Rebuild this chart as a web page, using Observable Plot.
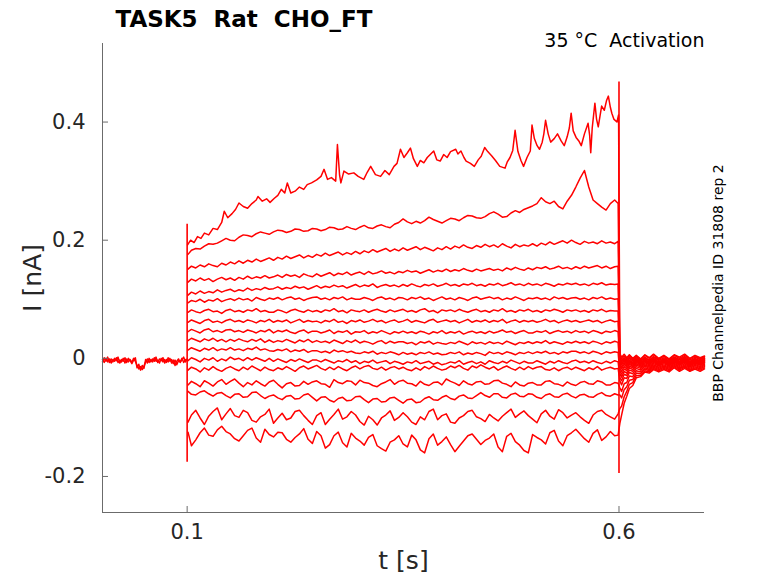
<!DOCTYPE html>
<html><head><meta charset="utf-8">
<script src="https://cdn.jsdelivr.net/npm/d3@7"></script>
<script src="https://cdn.jsdelivr.net/npm/@observablehq/plot@0.6"></script>
<style>
html,body{margin:0;padding:0;background:#fff;}
#chart svg text{white-space:pre;}
</style></head><body><div id="chart"></div>
<script>
const titleText = "TASK5  Rat  CHO_FT";
const conditionText = "35 °C  Activation";
const sourceText = "BBP Channelpedia ID 31808 rep 2";
const xLabel = "t [s]";
const yLabel = "I [nA]";
const xTicks = [0.1, 0.6];
const yTicks = [-0.2, 0, 0.2, 0.4];
const xDomain = [0.002, 0.699];
const yDomain = [-0.261, 0.533];

// baseline before the step (pA), t in s — two overlapping sweeps
const tPre = [0.002,0.004,0.006,0.008,0.010,0.012,0.014,0.016,0.018,0.020,0.022,0.024,0.026,0.028,0.030,0.032,0.034,0.036,0.038,0.040,0.042,0.044,0.046,0.048,0.050,0.052,0.054,0.056,0.058,0.060,0.062,0.064,0.066,0.068,0.070,0.072,0.074,0.076,0.078,0.080,0.082,0.084,0.086,0.088,0.090,0.092,0.094,0.096,0.098,0.100];
const pre1PA = [-2,-7,0,-6,-1,-8,-2,-5,1,-7,-3,-6,0,-8,-1,-6,-2,-7,0,-5,-12,-18,-14,-19,-13,-6,-1,-7,-2,-6,1,-5,-3,-8,0,-6,-2,-7,1,-5,-2,-9,-3,-11,-4,-6,0,-7,-2,-4];
const pre2PA = [-6,1,-5,2,-7,-1,-6,0,-4,2,-8,-2,-5,1,-7,0,-4,-9,-3,1,-16,-10,-20,-12,-17,-2,-8,0,-6,-1,-5,2,-7,-1,-4,1,-8,-2,-6,0,-8,-3,-12,-5,-1,-7,-2,2,-6,-1];

// top trace (own time points)
const tTop = [0.1005,0.104,0.108,0.112,0.116,0.120,0.125,0.130,0.135,0.140,0.143,0.147,0.152,0.156,0.160,0.165,0.170,0.175,0.180,0.182,0.187,0.192,0.196,0.201,0.205,0.209,0.213,0.216,0.220,0.225,0.230,0.235,0.239,0.244,0.250,0.255,0.2585,0.2625,0.267,0.272,0.274,0.2765,0.278,0.2815,0.287,0.293,0.298,0.3045,0.3085,0.3125,0.318,0.324,0.329,0.334,0.3395,0.343,0.347,0.351,0.355,0.3585,0.362,0.3665,0.370,0.374,0.378,0.3855,0.389,0.393,0.397,0.401,0.405,0.411,0.4135,0.417,0.4205,0.423,0.428,0.4325,0.437,0.4405,0.4445,0.448,0.4525,0.457,0.462,0.468,0.4705,0.4738,0.477,0.4797,0.483,0.4865,0.4895,0.4935,0.4973,0.4993,0.502,0.5052,0.508,0.5111,0.513,0.515,0.518,0.5209,0.525,0.5288,0.533,0.5366,0.540,0.5425,0.5446,0.547,0.5503,0.5535,0.5563,0.560,0.5642,0.566,0.5673,0.569,0.5721,0.574,0.576,0.578,0.5799,0.583,0.5855,0.5877,0.590,0.5917,0.594,0.5976,0.5995];
const trace1PA = [192,200,196,206,203,212,209,220,218,230,249,238,245,252,263,257,254,262,268,274,266,270,264,271,276,286,280,297,280,283,290,286,294,297,302,308,320,303,306,300,362,310,297,317,312,314,308,303,315,325,311,308,318,311,325,330,354,340,348,356,338,325,335,331,340,351,336,334,345,340,350,354,346,351,340,334,330,325,336,342,357,350,343,335,325,322,332,340,352,386,350,335,325,340,351,395,372,360,354,366,380,403,380,366,372,380,368,360,375,390,415,385,374,368,360,380,398,378,348,390,432,405,392,410,427,420,436,444,425,415,405,400,412];

// shared time grid for the other step traces (0.101, 0.105 ... 0.595, 0.599)
const tGrid = [0.101,0.105,0.11,0.115,0.12,0.125,0.13,0.135,0.14,0.145,0.15,0.155,0.16,0.165,0.17,0.175,0.18,0.185,0.19,0.195,0.20,0.205,0.21,0.215,0.22,0.225,0.23,0.235,0.24,0.245,0.25,0.255,0.26,0.265,0.27,0.275,0.28,0.285,0.29,0.295,0.30,0.305,0.31,0.315,0.32,0.325,0.33,0.335,0.34,0.345,0.35,0.355,0.36,0.365,0.37,0.375,0.38,0.385,0.39,0.395,0.40,0.405,0.41,0.415,0.42,0.425,0.43,0.435,0.44,0.445,0.45,0.455,0.46,0.465,0.47,0.475,0.48,0.485,0.49,0.495,0.50,0.505,0.51,0.515,0.52,0.525,0.53,0.535,0.54,0.545,0.55,0.555,0.56,0.565,0.57,0.575,0.58,0.585,0.59,0.595,0.599];
const trace2PA = [176,183,186,185,190,194,193,195,199,203,200,199,205,209,208,206,211,214,212,210,214,217,216,213,215,219,218,215,216,220,219,216,218,222,221,218,219,223,220,218,222,225,221,220,224,226,223,221,227,230,236,231,228,232,229,233,239,235,232,229,233,237,236,233,238,242,241,238,237,240,245,248,244,239,240,246,250,247,252,255,258,262,272,265,262,266,257,253,266,276,290,305,318,290,268,262,256,251,262,268,262];
const trace3PA = [151,156,153,158,155,160,157,155,161,158,163,160,165,161,166,163,168,164,167,170,166,171,168,173,169,172,175,170,174,171,176,173,178,174,177,180,175,179,176,181,177,182,179,184,180,183,186,181,185,182,187,183,186,189,184,188,185,182,187,184,189,185,190,187,192,188,186,191,188,193,189,192,188,194,190,187,193,189,192,190,194,190,195,192,197,193,196,199,195,200,196,193,198,195,197,194,199,195,197,194,198];
const trace4PA = [129,134,131,136,132,135,130,134,137,133,136,132,137,134,139,135,138,136,140,136,138,141,137,142,139,141,137,143,140,138,143,139,142,145,140,144,142,146,141,144,146,142,147,143,145,148,144,146,143,147,145,149,146,148,144,147,150,146,149,147,151,147,150,148,152,149,147,151,148,150,152,149,151,148,153,150,154,151,149,153,150,154,152,155,151,153,156,152,154,151,155,152,156,153,155,157,153,156,152,155,156];
const trace5PA = [107,112,109,114,110,113,111,116,112,115,117,113,116,114,119,115,118,116,120,117,118,121,117,120,118,122,119,121,117,120,123,119,122,120,124,121,123,119,122,125,121,124,122,126,120,123,125,122,124,121,125,122,126,123,121,125,123,126,122,124,127,123,125,122,126,124,127,123,125,122,126,124,127,123,125,128,124,126,123,127,124,126,123,127,125,122,126,124,127,125,127,124,126,123,127,125,128,124,126,125,126];
const trace6PA = [94,98,96,100,95,99,97,101,96,99,101,98,102,99,101,97,103,100,98,102,100,103,99,102,104,100,102,98,101,103,104,100,102,99,103,101,104,99,102,100,100,103,101,98,102,104,100,102,99,103,102,99,103,101,104,100,102,98,101,104,100,102,99,103,101,98,102,104,100,102,104,101,103,99,102,100,104,101,98,102,101,103,100,102,99,104,101,103,100,102,103,100,102,99,103,101,104,100,102,100,101];
const trace7PA = [78,82,79,77,81,83,79,80,76,81,83,79,81,78,82,80,84,79,81,78,78,82,80,77,81,83,80,78,82,79,81,78,82,80,84,79,81,77,82,80,79,82,78,81,83,80,78,82,79,81,83,79,81,78,82,84,79,81,77,82,80,82,79,83,80,78,81,83,79,81,78,82,80,84,79,81,78,82,80,83,79,81,78,82,80,83,81,78,82,80,82,79,81,78,82,80,83,79,81,80,80];
const trace8PA = [61,65,62,59,64,66,61,63,60,64,66,62,64,61,65,63,60,64,62,66,61,64,62,65,60,63,66,61,64,62,63,60,64,62,66,61,63,59,64,62,65,61,63,66,62,64,60,63,65,61,63,66,61,64,62,60,64,66,61,63,65,62,64,60,63,66,61,64,62,65,61,64,62,66,60,63,65,61,64,62,64,61,63,66,62,64,60,63,65,62,64,61,63,65,62,64,60,63,65,62,63];
const trace9PA = [45,49,46,43,48,50,45,47,44,48,49,45,47,44,48,46,43,47,45,49,43,47,45,48,44,42,46,48,43,46,46,43,45,48,42,46,44,47,41,45,44,47,42,45,43,47,44,41,45,43,46,43,45,42,46,44,41,45,43,47,42,45,43,46,41,44,46,43,45,42,46,43,45,48,44,46,42,45,47,43,43,46,44,47,42,45,47,44,46,43,47,44,46,43,47,45,42,46,44,47,45];
const trace10PA = [30,34,31,28,33,30,34,29,32,28,32,29,33,30,28,32,29,33,27,31,27,30,28,32,29,26,31,28,32,27,30,27,29,26,31,28,25,30,27,31,26,29,27,24,28,30,25,29,26,28,28,25,27,23,28,26,29,24,27,25,24,27,25,29,26,23,28,25,27,24,28,25,27,24,29,26,23,27,25,28,25,28,26,30,25,28,26,24,28,26,29,26,28,25,29,27,24,28,26,29,27];
const trace11PA = [14,18,15,12,17,14,18,13,16,14,18,14,16,13,17,15,19,14,16,13,12,15,13,16,11,14,12,15,10,13,13,10,12,9,14,11,13,10,12,9,8,11,9,12,7,10,8,11,9,6,10,7,9,6,10,8,11,7,9,6,7,10,8,11,6,9,7,10,8,5,11,8,10,7,11,9,6,10,8,11,8,11,9,12,8,10,7,11,9,12,12,9,11,8,12,10,7,11,9,11,10];
const trace12PA = [-4,1,-2,-6,0,-3,1,-5,-1,-4,2,-2,0,-4,1,-3,1,-2,-5,0,-5,-1,-4,-7,-2,-5,-1,-4,-7,-3,-3,-6,-2,-5,-8,-4,-6,-2,-7,-4,-9,-5,-7,-3,-8,-6,-4,-9,-5,-7,-10,-6,-8,-4,-9,-7,-5,-10,-7,-11,-9,-6,-8,-4,-10,-7,-5,-9,-6,-10,-4,-7,-9,-5,-8,-3,-6,-9,-5,-8,-8,-4,-7,-10,-5,-8,-4,-7,-9,-5,-3,-7,-5,-8,-4,-7,-9,-5,-8,-4,-6];
const trace13PA = [-20,-15,-18,-23,-16,-20,-14,-19,-22,-17,-14,-18,-21,-15,-19,-13,-17,-21,-15,-19,-21,-16,-19,-14,-18,-22,-16,-13,-18,-15,-12,-17,-20,-15,-19,-14,-18,-21,-16,-13,-18,-14,-12,-17,-19,-15,-20,-16,-14,-18,-15,-19,-21,-16,-20,-14,-18,-13,-17,-20,-18,-13,-16,-12,-17,-20,-13,-16,-11,-15,-18,-14,-20,-16,-13,-17,-20,-15,-19,-14,-18,-15,-14,-19,-20,-16,-21,-17,-15,-19,-15,-18,-21,-16,-19,-14,-20,-17,-15,-18,-17];
const trace14PA = [-45,-39,-43,-48,-38,-42,-47,-40,-36,-44,-39,-35,-42,-48,-41,-45,-38,-43,-47,-40,-37,-44,-50,-43,-41,-47,-46,-39,-44,-40,-38,-43,-44,-49,-36,-41,-43,-38,-39,-45,-37,-41,-42,-46,-48,-43,-40,-36,-44,-39,-37,-42,-43,-47,-39,-44,-46,-41,-40,-45,-35,-39,-42,-46,-38,-43,-45,-40,-39,-44,-43,-38,-37,-42,-44,-48,-40,-45,-47,-42,-41,-45,-45,-39,-38,-43,-44,-47,-40,-44,-46,-41,-39,-43,-44,-38,-40,-45,-45,-41,-42];
const trace15PA = [-56,-61,-62,-57,-55,-60,-64,-59,-58,-63,-67,-61,-60,-66,-65,-58,-57,-63,-68,-64,-62,-67,-70,-64,-63,-69,-68,-62,-60,-66,-72,-66,-65,-71,-74,-68,-66,-72,-71,-65,-64,-70,-75,-69,-68,-74,-73,-67,-66,-71,-76,-70,-69,-75,-74,-68,-65,-70,-71,-66,-63,-68,-70,-64,-62,-67,-68,-63,-58,-63,-66,-60,-60,-66,-67,-61,-59,-64,-65,-60,-61,-66,-68,-62,-60,-65,-66,-61,-59,-64,-67,-62,-61,-65,-66,-61,-58,-63,-64,-60,-62];
const trace16PA = [-108,-96,-88,-101,-112,-98,-90,-84,-104,-94,-85,-97,-100,-88,-92,-105,-108,-99,-95,-86,-110,-101,-93,-104,-101,-90,-88,-97,-105,-112,-97,-92,-112,-103,-95,-86,-103,-99,-90,-96,-107,-113,-98,-104,-113,-101,-96,-89,-105,-100,-92,-99,-108,-112,-99,-104,-90,-86,-104,-97,-94,-108,-110,-101,-97,-90,-88,-99,-102,-107,-95,-101,-106,-98,-92,-86,-100,-94,-89,-97,-103,-109,-94,-88,-98,-103,-87,-92,-101,-96,-92,-99,-105,-110,-96,-90,-88,-95,-99,-103,-94];
const trace17PA = [-125,-148,-138,-126,-118,-130,-132,-121,-115,-124,-128,-136,-140,-131,-122,-118,-135,-142,-120,-129,-133,-125,-126,-137,-142,-134,-128,-119,-137,-144,-124,-131,-152,-146,-131,-125,-143,-150,-127,-135,-140,-147,-134,-129,-148,-153,-157,-142,-138,-131,-145,-150,-130,-138,-155,-160,-136,-128,-147,-141,-133,-146,-158,-149,-140,-131,-128,-137,-146,-139,-135,-128,-150,-158,-132,-127,-141,-147,-156,-160,-129,-134,-138,-145,-126,-122,-140,-148,-131,-126,-120,-128,-136,-142,-127,-121,-139,-133,-124,-131,-130];

// tails after the step (pA), one per trace, on tTail
const tTail = [0.601,0.603,0.606,0.609,0.612,0.616,0.62,0.625,0.63,0.635,0.64,0.646,0.652,0.658,0.664,0.67,0.676,0.682,0.688,0.694,0.699];
const tails = [
  [8,2,7,1,6,0,5,-1,6,1,7,0,5,-1,6,2,7,0,5,1,4],
  [5,-1,4,-2,5,-1,4,-2,5,0,6,-1,4,-2,5,0,5,-1,4,-1,3],
  [2,-4,1,-5,2,-3,3,-4,2,-3,3,-2,4,-3,2,-2,3,-3,2,-2,1],
  [0,-6,-1,-7,0,-5,1,-5,0,-4,2,-4,1,-5,2,-3,1,-5,0,-4,0],
  [-3,-9,-2,-8,-3,-7,-1,-7,-2,-6,0,-6,-1,-6,1,-5,0,-6,-1,-5,-1],
  [-6,-11,-4,-10,-4,-9,-2,-8,-3,-7,-1,-7,-2,-7,0,-6,-1,-7,-2,-6,-2],
  [-9,-15,-7,-12,-6,-10,-4,-9,-3,-8,-2,-8,-3,-8,-1,-7,-2,-8,-3,-7,-3],
  [-13,-18,-10,-15,-8,-12,-5,-10,-4,-9,-3,-9,-4,-9,-2,-8,-3,-9,-4,-8,-4],
  [-17,-22,-14,-18,-10,-14,-7,-11,-5,-10,-4,-10,-5,-10,-3,-9,-4,-10,-5,-9,-5],
  [-21,-27,-18,-21,-13,-16,-9,-13,-7,-11,-5,-11,-6,-11,-4,-10,-5,-11,-6,-10,-6],
  [-26,-32,-22,-25,-16,-19,-11,-15,-9,-13,-7,-12,-7,-12,-5,-11,-6,-12,-7,-11,-7],
  [-32,-38,-27,-29,-20,-22,-14,-17,-11,-15,-9,-13,-9,-13,-6,-12,-7,-13,-8,-12,-8],
  [-38,-45,-33,-34,-24,-26,-17,-20,-13,-17,-11,-15,-11,-15,-8,-14,-9,-15,-10,-14,-10],
  [-50,-56,-43,-41,-30,-31,-21,-23,-16,-19,-13,-17,-13,-17,-10,-16,-11,-17,-12,-16,-12],
  [-62,-67,-53,-48,-37,-36,-25,-26,-18,-21,-15,-19,-15,-19,-12,-18,-13,-19,-14,-18,-14],
  [-85,-81,-65,-56,-44,-41,-29,-29,-21,-23,-17,-21,-17,-21,-14,-20,-15,-21,-16,-20,-16],
  [-110,-96,-76,-64,-51,-46,-33,-31,-23,-25,-19,-23,-19,-23,-16,-22,-17,-22,-18,-22,-18]
];

// capacitive transients at step on/off (pA)
const spikeT = [0.1, 0.6];
const spikeLoPA = [-176, -195];
const spikeHiPA = [227, 468];

const red = "#ff0000";
const axisGray = "#6b6b6b";
const textDark = "#262626";

const rows = [];
function addSeries(id, ts, vs) {
  const n = Math.min(ts.length, vs.length);
  for (let i = 0; i < n; i++) rows.push({id, t: ts[i], v: vs[i] / 1000});
}
addSeries("pre1", tPre, pre1PA);
addSeries("pre2", tPre, pre2PA);
const stepSeries = [
  [tTop, trace1PA], [tGrid, trace2PA], [tGrid, trace3PA], [tGrid, trace4PA], [tGrid, trace5PA],
  [tGrid, trace6PA], [tGrid, trace7PA], [tGrid, trace8PA], [tGrid, trace9PA], [tGrid, trace10PA],
  [tGrid, trace11PA], [tGrid, trace12PA], [tGrid, trace13PA], [tGrid, trace14PA], [tGrid, trace15PA],
  [tGrid, trace16PA], [tGrid, trace17PA]
];
stepSeries.forEach(([ts, vs], k) => {
  addSeries(k + 1, ts, vs);
  addSeries(k + 1, tTail, tails[k]);
});
const spikes = spikeT.map((t, i) => ({t, lo: spikeLoPA[i] / 1000, hi: spikeHiPA[i] / 1000}));

const chart = Plot.plot({
  width: 778, height: 583,
  marginLeft: 102, marginRight: 74, marginTop: 43, marginBottom: 71,
  style: {fontFamily: "DejaVu Sans", background: "white", overflow: "visible"},
  x: {domain: xDomain},
  y: {domain: yDomain},
  marks: [
    Plot.line(rows, {x: "t", y: "v", z: "id", stroke: red, strokeWidth: 1.5}),
    Plot.ruleX(spikes, {x: "t", y1: "lo", y2: "hi", stroke: red, strokeWidth: 1.6}),
    Plot.ruleX([xDomain[0]], {stroke: axisGray}),
    Plot.ruleY([yDomain[0]], {stroke: axisGray}),
    Plot.axisY(yTicks, {anchor: "left", tickSize: -6, tickPadding: 23, tickFormat: d => String(d), fontSize: 21, stroke: axisGray, fill: textDark, label: null}),
    Plot.axisX(xTicks, {anchor: "bottom", tickSize: -6, tickPadding: 18, tickFormat: d => String(d), fontSize: 21, stroke: axisGray, fill: textDark, label: null}),
    Plot.text([titleText], {frameAnchor: "top-left", dx: 13, dy: -33, textAnchor: "start", fontSize: 23, fontWeight: "bold", fill: "black"}),
    Plot.text([conditionText], {frameAnchor: "top-right", dy: -10, textAnchor: "end", fontSize: 19, fill: "black"}),
    Plot.text([sourceText], {frameAnchor: "right", dx: 14, dy: 5, rotate: -90, textAnchor: "middle", fontSize: 14, fill: "black"}),
    Plot.text([yLabel], {frameAnchor: "left", dx: -70, rotate: -90, textAnchor: "middle", fontSize: 25, fill: textDark}),
    Plot.text([xLabel], {frameAnchor: "bottom", dy: 56, textAnchor: "middle", fontSize: 25, fill: textDark})
  ]
});
document.getElementById("chart").appendChild(chart);
</script>
</body></html>
